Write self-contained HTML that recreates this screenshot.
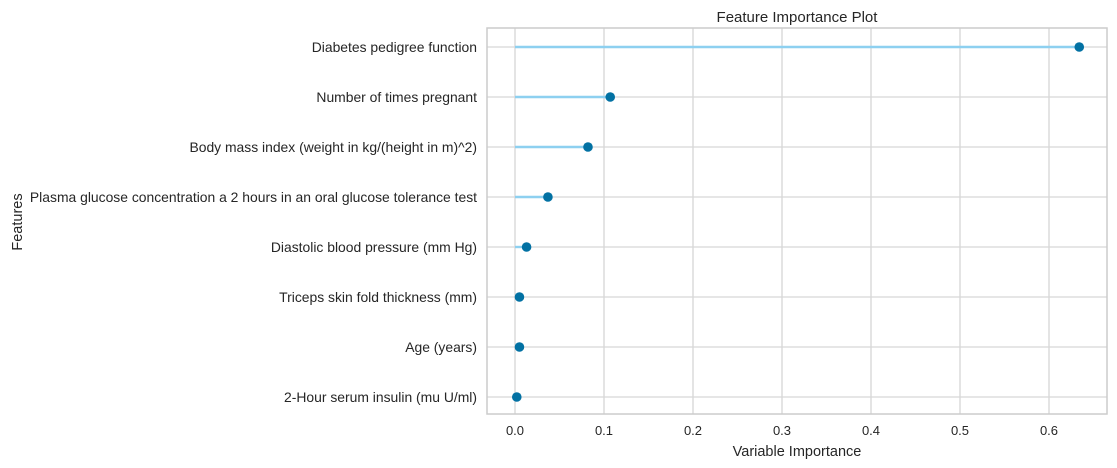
<!DOCTYPE html>
<html><head><meta charset="utf-8"><style>
body{margin:0;background:#fff;}
svg{display:block;font-family:"Liberation Sans",Arial,sans-serif;}
</style></head><body>
<svg id="c" width="1117" height="468" viewBox="0 0 1117 468">
<text x="797" y="22" text-anchor="middle" font-size="15" fill="#262626">Feature Importance Plot</text>
<text x="797" y="456" text-anchor="middle" font-size="14.5" fill="#262626">Variable Importance</text>
<text transform="translate(22,222) rotate(-90)" text-anchor="middle" font-size="14.5" fill="#262626">Features</text>
<g id="grid"></g><g id="marks"></g><g id="labels"></g>
<rect x="487" y="28" width="620" height="386" fill="none" stroke="#cccccc" stroke-width="1.5"/>
</svg>
<script>
const features=["Diabetes pedigree function","Number of times pregnant","Body mass index (weight in kg/(height in m)^2)","Plasma glucose concentration a 2 hours in an oral glucose tolerance test","Diastolic blood pressure (mm Hg)","Triceps skin fold thickness (mm)","Age (years)","2-Hour serum insulin (mu U/ml)"];
const importance=[0.634,0.107,0.082,0.037,0.013,0.005,0.005,0.002];
const xTicks=[0,0.1,0.2,0.3,0.4,0.5,0.6];
const xTickLabels=["0.0","0.1","0.2","0.3","0.4","0.5","0.6"];
const NS="http://www.w3.org/2000/svg";
const x=v=>515+v*890;
const y=i=>47+i*50;
function mk(t,a,p){const e=document.createElementNS(NS,t);for(const k in a)e.setAttribute(k,a[k]);p.appendChild(e);return e;}
const grid=document.getElementById('grid'),marks=document.getElementById('marks'),labels=document.getElementById('labels');
xTicks.forEach((v,i)=>{
 const l=mk('line',{x1:x(v),x2:x(v),y1:28,y2:414,stroke:'#d6d6d6','stroke-width':1.3},grid);
 
 
 const t=mk('text',{x:x(v),y:435,'text-anchor':'middle','font-size':13,fill:'#262626'},labels);
 t.textContent=xTickLabels[i];
 
 
});
features.forEach((f,i)=>{
 const g=mk('line',{x1:487,x2:1107,y1:y(i),y2:y(i),stroke:'#d6d6d6','stroke-width':1.3},grid);
 
 
 const s=mk('line',{x1:x(0),x2:x(importance[i]),y1:y(i),y2:y(i),stroke:'#8dd0f0','stroke-width':2.4},marks);
 
 
 const c=mk('circle',{cx:x(importance[i]),cy:y(i),r:4.8,fill:'#0271a3'},marks);
 
 
 const t=mk('text',{x:477,y:y(i)+4.8,'text-anchor':'end','font-size':13.9,fill:'#262626'},labels);
 t.textContent=f;
 
 
});
</script>
</body></html>
